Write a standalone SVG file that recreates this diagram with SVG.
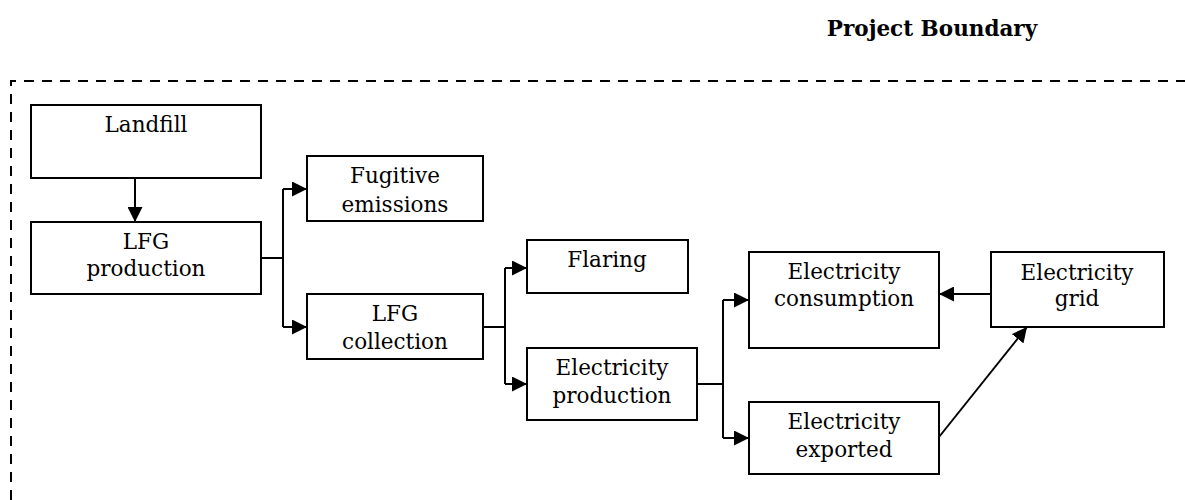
<svg xmlns="http://www.w3.org/2000/svg" width="1185" height="500" viewBox="0 0 1185 500">
  <style>
    .box { fill: #ffffff; stroke: #000000; stroke-width: 2; }
    .lbl { font-family: "DejaVu Serif", "Liberation Serif", serif; font-size: 21.5px; fill: #000000; text-anchor: middle; }
    .title { font-family: "DejaVu Serif", "Liberation Serif", serif; font-size: 21.5px; font-weight: bold; fill: #000000; text-anchor: middle; }
    .wire { fill: none; stroke: #000000; stroke-width: 2; }
    .arrow { fill: none; stroke: #000000; stroke-width: 2; marker-end: url(#head); }
    .boundary { fill: none; stroke: #000000; stroke-width: 2; stroke-dasharray: 10 8; }
  </style>
  <defs>
    <marker id="head" markerUnits="userSpaceOnUse" markerWidth="15" markerHeight="15" refX="15" refY="7.5" orient="auto">
      <path d="M0,0 L15,7.5 L0,15 z" fill="#000000"/>
    </marker>
  </defs>

  <rect width="1185" height="500" fill="#ffffff"/>

  <!-- project boundary -->
  <text class="title" x="932" y="36">Project Boundary</text>
  <path class="boundary" d="M11,500 L11,81 L1185,81"/>

  <!-- connectors -->
  <g id="connectors">
    <path class="arrow" d="M135,178 L135,222"/>
    <path class="wire" d="M261,258 L283,258 M283,189 L283,327"/>
    <path class="arrow" d="M283,189 L307,189"/>
    <path class="arrow" d="M283,327 L307,327"/>
    <path class="wire" d="M483,327 L505,327 M505,268 L505,384"/>
    <path class="arrow" d="M505,268 L527,268"/>
    <path class="arrow" d="M505,384 L527,384"/>
    <path class="wire" d="M697,384 L723,384 M723,300 L723,438"/>
    <path class="arrow" d="M723,300 L749,300"/>
    <path class="arrow" d="M723,438 L749,438"/>
    <path class="arrow" d="M991,294 L939,294"/>
    <path class="arrow" d="M939,437 L1027,327"/>
  </g>

  <g id="landfill">
    <rect class="box" x="31" y="105" width="230" height="73"/>
    <text class="lbl" x="146" y="132">Landfill</text>
  </g>
  <g id="lfg-production">
    <rect class="box" x="31" y="222" width="230" height="72"/>
    <text class="lbl" x="146" y="249">LFG</text>
    <text class="lbl" x="146" y="276">production</text>
  </g>
  <g id="fugitive-emissions">
    <rect class="box" x="307" y="156" width="176" height="65"/>
    <text class="lbl" x="395" y="183">Fugitive</text>
    <text class="lbl" x="395" y="212">emissions</text>
  </g>
  <g id="lfg-collection">
    <rect class="box" x="307" y="294" width="176" height="65"/>
    <text class="lbl" x="395" y="321">LFG</text>
    <text class="lbl" x="395" y="349">collection</text>
  </g>
  <g id="flaring">
    <rect class="box" x="527" y="240" width="161" height="53"/>
    <text class="lbl" x="607" y="267">Flaring</text>
  </g>
  <g id="electricity-production">
    <rect class="box" x="527" y="348" width="170" height="72"/>
    <text class="lbl" x="612" y="375">Electricity</text>
    <text class="lbl" x="612" y="403">production</text>
  </g>
  <g id="electricity-consumption">
    <rect class="box" x="749" y="252" width="190" height="96"/>
    <text class="lbl" x="844" y="279">Electricity</text>
    <text class="lbl" x="844" y="306">consumption</text>
  </g>
  <g id="electricity-exported">
    <rect class="box" x="749" y="402" width="190" height="72"/>
    <text class="lbl" x="844" y="429">Electricity</text>
    <text class="lbl" x="844" y="457">exported</text>
  </g>
  <g id="electricity-grid">
    <rect class="box" x="991" y="252" width="173" height="75"/>
    <text class="lbl" x="1077" y="280">Electricity</text>
    <text class="lbl" x="1077" y="306">grid</text>
  </g>
</svg>
